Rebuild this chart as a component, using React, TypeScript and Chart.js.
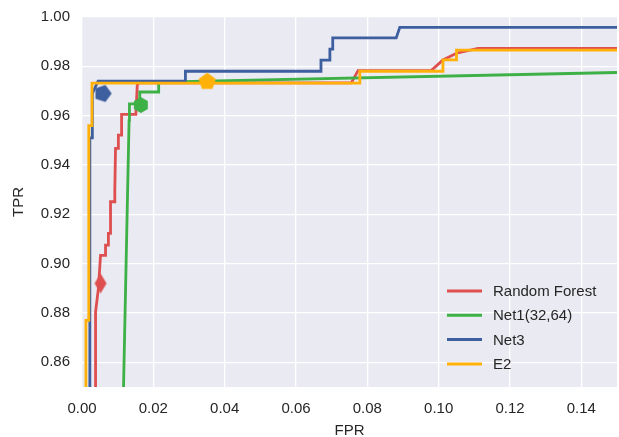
import React, { useEffect, useRef } from "react";
import { Chart, registerables } from "chart.js";

Chart.register(...registerables);

// ---- Data ----
const seriesLabels = ["Random Forest", "Net1(32,64)", "Net3", "E2"];
const seriesColors = ["#DE4F4F", "#3DB046", "#3D5E9F", "#FFB10A"];

const rfFpr = [0.0038, 0.0038, 0.0046, 0.0052, 0.0066, 0.0066, 0.0074, 0.0074, 0.0080, 0.0080, 0.0090, 0.0092, 0.0094, 0.0102, 0.0102, 0.0111, 0.0111, 0.0151, 0.0155, 0.0160, 0.0755, 0.0774, 0.0979, 0.1012, 0.1050, 0.1110, 0.15];
const rfTpr = [0.84, 0.8804, 0.890, 0.9034, 0.9034, 0.9075, 0.9075, 0.9123, 0.9123, 0.9251, 0.9251, 0.9298, 0.9467, 0.9467, 0.9521, 0.9521, 0.9605, 0.9605, 0.9724, 0.9733, 0.9733, 0.9783, 0.9783, 0.9826, 0.9853, 0.9873, 0.9873];

const net1Fpr = [0.0115, 0.0132, 0.0133, 0.0162, 0.0162, 0.0215, 0.0215, 0.15];
const net1Tpr = [0.84, 0.958, 0.9648, 0.9648, 0.9696, 0.9696, 0.9736, 0.9775];

const net3Fpr = [0.0022, 0.0022, 0.0029, 0.0029, 0.0045, 0.0290, 0.0290, 0.0670, 0.0670, 0.0695, 0.0695, 0.0703, 0.0703, 0.0881, 0.0891, 0.15];
const net3Tpr = [0.84, 0.951, 0.951, 0.969, 0.9740, 0.9740, 0.9780, 0.9780, 0.9825, 0.9825, 0.9870, 0.9870, 0.9915, 0.9915, 0.9958, 0.9958];

const e2Fpr = [0.0011, 0.0011, 0.0019, 0.0019, 0.0028, 0.0028, 0.0779, 0.0779, 0.1012, 0.1012, 0.1050, 0.1050, 0.15];
const e2Tpr = [0.84, 0.877, 0.877, 0.956, 0.956, 0.9732, 0.9732, 0.9780, 0.9780, 0.9826, 0.9826, 0.9866, 0.9866];

// Operating-point markers
const markerFpr = [0.0052, 0.0165, 0.0058, 0.0351];
const markerTpr = [0.892, 0.9643, 0.9690, 0.9738];

const xTicks = [0.0, 0.02, 0.04, 0.06, 0.08, 0.1, 0.12, 0.14];
const yTicks = [0.86, 0.88, 0.9, 0.92, 0.94, 0.96, 0.98, 1.0];

// ---- Helpers ----
function polygonMarker(color: string, rx: number, ry: number, sides: number, startDeg: number): HTMLCanvasElement {
  const w = Math.ceil(rx * 2 + 2);
  const h = Math.ceil(ry * 2 + 2);
  const c = document.createElement("canvas");
  c.width = w;
  c.height = h;
  const ctx = c.getContext("2d")!;
  ctx.fillStyle = color;
  ctx.beginPath();
  for (let i = 0; i < sides; i++) {
    const a = ((startDeg + (360 / sides) * i) * Math.PI) / 180;
    const px = w / 2 + rx * Math.cos(a);
    const py = h / 2 + ry * Math.sin(a);
    if (i === 0) ctx.moveTo(px, py);
    else ctx.lineTo(px, py);
  }
  ctx.closePath();
  ctx.fill();
  return c;
}

const zip = (xs: number[], ys: number[]) => xs.map((x, i) => ({ x, y: ys[i] }));

const bgPlugin = {
  id: "bgPlugin",
  beforeDraw(chart: any) {
    const { ctx, chartArea } = chart;
    ctx.save();
    ctx.fillStyle = "#EAEAF2";
    ctx.fillRect(chartArea.left, chartArea.top, chartArea.right - chartArea.left, chartArea.bottom - chartArea.top);
    ctx.restore();
  },
};

const legendPlugin = {
  id: "legendPlugin",
  afterDraw(chart: any) {
    const { ctx } = chart;
    ctx.save();
    ctx.font = "15px 'Liberation Sans', Arial, sans-serif";
    ctx.textBaseline = "middle";
    ctx.textAlign = "left";
    const x0 = 447;
    const y0 = 291;
    const dy = 24.3;
    seriesLabels.forEach((lab, i) => {
      const y = y0 + i * dy;
      ctx.strokeStyle = seriesColors[i];
      ctx.lineWidth = 3;
      ctx.lineCap = "butt";
      ctx.beginPath();
      ctx.moveTo(x0, y);
      ctx.lineTo(x0 + 35, y);
      ctx.stroke();
      ctx.fillStyle = "#262626";
      ctx.fillText(lab, x0 + 46, y + 1);
    });
    ctx.restore();
  },
};

export default function App() {
  const ref = useRef<HTMLCanvasElement | null>(null);

  useEffect(() => {
    document.body.style.margin = "0";
    const canvas = ref.current;
    if (!canvas) return;

    const markers = [
      polygonMarker(seriesColors[0], 6, 10, 4, -90),
      polygonMarker(seriesColors[1], 8, 8, 6, -90),
      polygonMarker(seriesColors[2], 9, 9, 5, 0),
      polygonMarker(seriesColors[3], 9, 9, 5, -90),
    ];

    const curves = [
      zip(rfFpr, rfTpr),
      zip(net1Fpr, net1Tpr),
      zip(net3Fpr, net3Tpr),
      zip(e2Fpr, e2Tpr),
    ];

    const lineSets = curves.map((d, i) => ({
      label: seriesLabels[i],
      data: d,
      showLine: true,
      borderColor: seriesColors[i],
      backgroundColor: seriesColors[i],
      borderWidth: 2.8,
      pointRadius: 0,
      tension: 0,
      order: 4 - i,
    }));

    const markerSets = markerFpr.map((x, i) => ({
      label: "",
      data: [{ x, y: markerTpr[i] }],
      showLine: false,
      pointStyle: markers[i],
      pointRadius: 8,
      borderWidth: 0,
      order: 0,
    }));

    const tickFont = { family: "'Liberation Sans', Arial, sans-serif", size: 15 };
    const titleFont = { family: "'Liberation Sans', Arial, sans-serif", size: 15 };

    const chart = new Chart(canvas, {
      type: "scatter",
      data: { datasets: [...lineSets, ...markerSets] as any },
      options: {
        animation: false,
        responsive: false,
        maintainAspectRatio: false,
        layout: { autoPadding: false, padding: { left: 0, right: 2, top: 17, bottom: 0 } },
        plugins: {
          legend: { display: false },
          tooltip: { enabled: false },
        },
        scales: {
          x: {
            type: "linear",
            min: 0,
            max: 0.15,
            afterFit: (s: any) => {
              s.height = 50;
              s.paddingLeft = 0;
              s.paddingRight = 0;
            },
            afterBuildTicks: (s: any) => {
              s.ticks = xTicks.map((v) => ({ value: v }));
            },
            ticks: {
              color: "#262626",
              font: tickFont,
              padding: 13,
              maxRotation: 0,
              autoSkip: false,
              callback: (v: any) => Number(v).toFixed(2),
            },
            grid: { color: "#FFFFFF", lineWidth: 1.3, drawTicks: false },
            border: { display: false },
            title: { display: true, text: "FPR", color: "#262626", font: titleFont, padding: { top: 0, bottom: -3 } },
          },
          y: {
            type: "linear",
            min: 0.85,
            max: 1.0,
            afterFit: (s: any) => {
              s.width = 82;
              s.paddingTop = 0;
              s.paddingBottom = 0;
            },
            afterBuildTicks: (s: any) => {
              s.ticks = yTicks.map((v) => ({ value: v }));
            },
            ticks: {
              color: "#262626",
              font: tickFont,
              padding: 12,
              autoSkip: false,
              callback: (v: any) => Number(v).toFixed(2),
            },
            grid: { color: "#FFFFFF", lineWidth: 1.3, drawTicks: false },
            border: { display: false },
            title: { display: true, text: "TPR", color: "#262626", font: titleFont, padding: { top: 10, bottom: 0 } },
          },
        },
      },
      plugins: [bgPlugin, legendPlugin],
    });

    return () => chart.destroy();
  }, []);

  return (
    <div style={{ position: "absolute", left: 0, top: 0, width: 619, height: 437, background: "#fff" }}>
      <canvas ref={ref} width={619} height={437} style={{ display: "block" }} />
    </div>
  );
}
